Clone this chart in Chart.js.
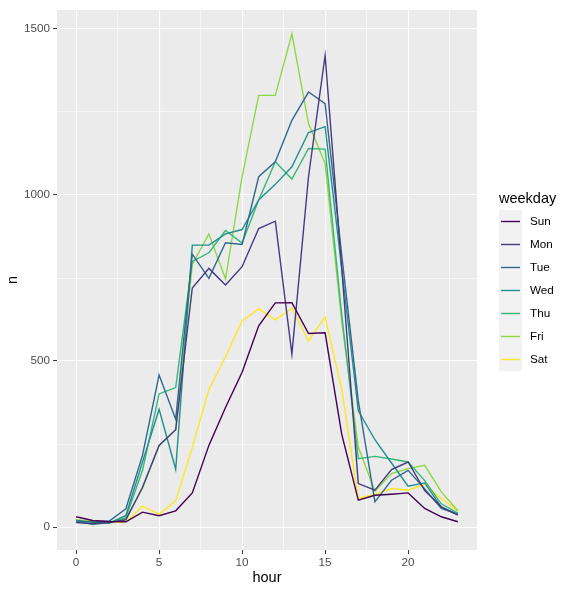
<!DOCTYPE html>
<html>
<head>
<meta charset="utf-8">
<script src="https://cdn.jsdelivr.net/npm/chart.js@4.4.1/dist/chart.umd.min.js"></script>
<style>
  html, body { margin: 0; padding: 0; background: #fff; }
  #chart { display: block; }
</style>
</head>
<body>
<canvas id="chart" width="565" height="591"></canvas>
<script>
const HOURS = [0, 1, 2, 3, 4, 5, 6, 7, 8, 9, 10, 11, 12, 13, 14, 15, 16, 17, 18, 19, 20, 21, 22, 23];
const WEEKDAYS = ['Sun', 'Mon', 'Tue', 'Wed', 'Thu', 'Fri', 'Sat'];

// 1時間ごとの件数 (曜日別)
const SUN = [31, 20, 17, 16, 45, 34, 49, 103, 246, 360, 466, 606, 675, 676, 583, 585, 280, 81, 96, 99, 103, 56, 31, 16];
const MON = [14, 10, 14, 22, 120, 246, 293, 720, 779, 729, 784, 899, 921, 521, 1055, 1420, 780, 131, 111, 173, 196, 110, 61, 36];
const TUE = [18, 15, 18, 55, 216, 458, 325, 822, 749, 856, 851, 1055, 1100, 1225, 1310, 1275, 820, 380, 76, 141, 171, 115, 56, 38];
const WED = [20, 15, 12, 35, 196, 355, 174, 849, 849, 883, 896, 985, 1032, 1085, 1188, 1206, 780, 350, 263, 193, 123, 133, 60, 38];
const THU = [20, 8, 14, 28, 171, 401, 420, 800, 826, 893, 855, 985, 1100, 1048, 1140, 1138, 640, 206, 213, 205, 196, 140, 70, 42];
const FRI = [22, 17, 13, 25, 116, 246, 293, 791, 883, 747, 1055, 1300, 1300, 1485, 1215, 1095, 620, 241, 108, 161, 176, 186, 106, 49];
const SAT = [18, 20, 14, 15, 63, 39, 79, 240, 414, 513, 621, 658, 624, 659, 561, 633, 416, 86, 99, 116, 111, 129, 86, 49];

const X_TICKS = [0, 2.5, 5, 7.5, 10, 12.5, 15, 17.5, 20, 22.5];
const Y_TICKS = [0, 250, 500, 750, 1000, 1250, 1500];

const SERIES = [SUN, MON, TUE, WED, THU, FRI, SAT];
const COLORS = ['#440154', '#443A83', '#31688E', '#21908C', '#35B779', '#8FD744', '#FDE725'];

const FONT = '"Liberation Sans", Arial, Helvetica, sans-serif';

// パネル背景 (ggplot の grey92)
const panelBackground = {
  id: 'panelBackground',
  beforeDraw(chart) {
    const { ctx, chartArea } = chart;
    ctx.save();
    ctx.fillStyle = '#EBEBEB';
    ctx.fillRect(chartArea.left, chartArea.top, chartArea.right - chartArea.left, chartArea.bottom - chartArea.top);
    ctx.restore();
  }
};

// 凡例は自前で描く
const ggLegend = {
  id: 'ggLegend',
  afterDraw(chart) {
    const ctx = chart.ctx;
    const left = 499;
    const top = 210;
    const key = 23;
    ctx.save();
    ctx.fillStyle = '#000';
    ctx.font = `14.5px ${FONT}`;
    ctx.textBaseline = 'middle';
    ctx.fillText('weekday', left, 199);
    chart.data.datasets.forEach((dataset, i) => {
      const y = top + i * key;
      ctx.fillStyle = '#F2F2F2';
      ctx.fillRect(left, y, key, key);
      ctx.strokeStyle = dataset.borderColor;
      ctx.lineWidth = 1.4;
      ctx.beginPath();
      ctx.moveTo(left + 2, y + key / 2);
      ctx.lineTo(left + key - 2, y + key / 2);
      ctx.stroke();
      ctx.fillStyle = '#000';
      ctx.font = `11.7px ${FONT}`;
      ctx.fillText(dataset.label, left + key + 8, y + key / 2);
    });
    ctx.restore();
  }
};

const isMajor = (value, step) => Math.abs(value % step) < 1e-9;

window.onload = function () {
  const ctx = document.querySelector('#chart').getContext('2d');
  new Chart(ctx, {
    type: 'line',
    data: {
      datasets: WEEKDAYS.map((day, i) => ({
        label: day,
        data: HOURS.map((h, j) => ({ x: h, y: SERIES[i][j] })),
        borderColor: COLORS[i],
        backgroundColor: COLORS[i],
        borderWidth: 1.4,
        pointRadius: 0,
        tension: 0,
        fill: false,
      })),
    },
    options: {
      responsive: false,
      animation: false,
      layout: { padding: { top: 7, right: 88, left: 0, bottom: 0 } },
      plugins: {
        legend: { display: false },
        tooltip: { enabled: false },
      },
      scales: {
        x: {
          type: 'linear',
          min: -1.15,
          max: 24.15,
          afterBuildTicks: (axis) => { axis.ticks = X_TICKS.map(v => ({ value: v })); },
          afterFit: (axis) => { axis.height = 41; },
          border: { display: false },
          grid: {
            color: '#FFFFFF',
            lineWidth: (c) => isMajor(c.tick.value, 5) ? 1.1 : 0.55,
            tickColor: (c) => isMajor(c.tick.value, 5) ? '#333333' : 'rgba(0,0,0,0)',
            tickLength: 4,
            tickWidth: 1,
          },
          ticks: {
            autoSkip: false,
            maxRotation: 0,
            padding: 2,
            color: '#4D4D4D',
            font: { family: FONT, size: 11.7 },
            callback: (v) => isMajor(v, 5) ? String(v) : '',
          },
          title: {
            display: true,
            text: 'hour',
            color: '#000',
            font: { family: FONT, size: 14.5 },
            padding: { top: 0, bottom: 4 },
          },
        },
        y: {
          min: -69,
          max: 1557,
          afterBuildTicks: (axis) => { axis.ticks = Y_TICKS.map(v => ({ value: v })); },
          afterFit: (axis) => { axis.width = 57; },
          border: { display: false },
          grid: {
            color: '#FFFFFF',
            lineWidth: (c) => isMajor(c.tick.value, 500) ? 1.1 : 0.55,
            tickColor: (c) => isMajor(c.tick.value, 500) ? '#333333' : 'rgba(0,0,0,0)',
            tickLength: 4,
            tickWidth: 1,
          },
          ticks: {
            autoSkip: false,
            padding: 3,
            color: '#4D4D4D',
            font: { family: FONT, size: 11.7 },
            callback: (v) => isMajor(v, 500) ? String(v) : '',
          },
          title: {
            display: true,
            text: 'n',
            color: '#000',
            font: { family: FONT, size: 14.5 },
            padding: { top: 4, bottom: 0 },
          },
        },
      },
    },
    plugins: [panelBackground, ggLegend],
  });
};
</script>
</body>
</html>
